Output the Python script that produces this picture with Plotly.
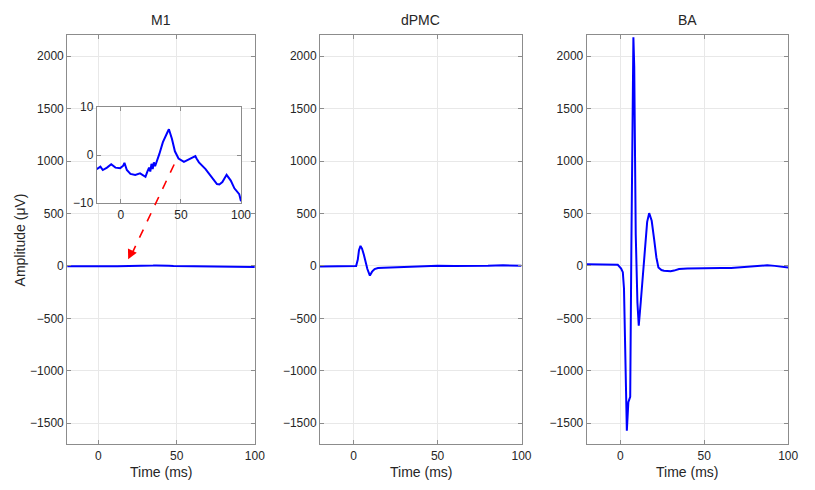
import plotly.graph_objects as go

# ---------------- data ----------------
m1_time = [-20, -17, -15, -11.5, -8, -4.5, -0.5, 2, 3, 5, 8, 12, 16, 20.5, 22, 23.5, 24.5, 25.5,
           26.5, 27.5, 28.5, 30, 32, 35, 37, 38.5, 40, 41, 42.5, 45, 48, 52.5, 56.5, 60, 62, 63,
           65, 70.5, 76, 80, 82, 84.5, 88, 91.5, 94.5, 96.5, 98.5, 100]
m1_amp = [-2.9, -2.4, -3.1, -2.6, -1.9, -2.6, -2.7, -2.2, -1.6, -3.1, -3.9, -4.1, -3.8, -4.5, -3.5,
          -2.6, -3.4, -1.8, -2.9, -1.5, -2.3, -1.0, 0.2, 2.7, 4.0, 4.6, 5.4, 4.6, 3.4, 0.8, -0.7,
          -1.4, -0.9, -0.6, -0.2, -0.7, -1.5, -2.9, -4.6, -6.0, -6.1, -5.6, -4.1, -5.3, -6.9, -7.6,
          -8.1, -9.6]

dpmc_time = [-20, -10, 0, 1.5, 2.5, 3.2, 4.1, 5, 6.1, 7.2, 8.2, 9.7, 11, 12.5, 14.5, 18, 22, 27,
             32, 34, 40, 50, 60, 72, 80, 89, 95, 100]
dpmc_amp = [-5, -4, -3, -2, 60, 150, 190, 165, 107, 30, -30, -92, -55, -30, -20, -17, -15, -12,
            -10, -2, -3, 0, -2, -3, 0, 5, 2, 0]

ba_time = [-20, -10, -1.5, 0.5, 1.5, 2.2, 3.0, 3.9, 4.8, 5.9, 6.6, 7.3, 7.8, 8.3, 9.2, 10.2, 11,
           12.2, 14, 16, 17.2, 18.7, 20.2, 21.5, 22.7, 24.5, 26, 28, 30, 32, 35, 40, 50, 60, 66,
           75, 82, 87.5, 92, 96, 100]
ba_amp = [15, 12, 10, -25, -60, -215, -900, -1571, -1300, -1248, 200, 1700, 2181, 1900, 300, -350,
          -570, -342, 0, 420, 503, 430, 247, 80, -15, -40, -46, -50, -52, -45, -30, -25, -20, -20,
          -20, -12, -5, 5, 0, -5, -15]

panel_titles = ["M1", "dPMC", "BA"]
x_ticks = [0, 50, 100]
y_ticks = [-1500, -1000, -500, 0, 500, 1000, 1500, 2000]
inset_y_ticks = [-10, 0, 10]

# ---------------- style ----------------
W, H = 815, 490
FONT = "Liberation Sans, Arial, sans-serif"
TXT = "#262626"
FRAME = "#8c8c8c"
GRID = "#e8e8e8"
BLUE = "#0000ff"

def px_x(a, b):
    return [a / W, b / W]

def px_y(top, bottom):
    return [1 - bottom / H, 1 - top / H]

fig = go.Figure()

fig.add_trace(go.Scatter(x=m1_time, y=m1_amp, mode="lines", line=dict(color=BLUE, width=2),
                         xaxis="x", yaxis="y", showlegend=False))
fig.add_trace(go.Scatter(x=dpmc_time, y=dpmc_amp, mode="lines", line=dict(color=BLUE, width=2),
                         xaxis="x2", yaxis="y2", showlegend=False))
fig.add_trace(go.Scatter(x=ba_time, y=ba_amp, mode="lines", line=dict(color=BLUE, width=2),
                         xaxis="x3", yaxis="y3", showlegend=False))
fig.add_trace(go.Scatter(x=m1_time, y=m1_amp, mode="lines", line=dict(color=BLUE, width=2),
                         xaxis="x4", yaxis="y4", showlegend=False))

def ax_common(**kw):
    d = dict(showline=True, linecolor=FRAME, linewidth=1, mirror="allticks",
             ticks="inside", ticklen=4, tickcolor=FRAME, showgrid=True, gridcolor=GRID,
             gridwidth=1, zeroline=False, tickfont=dict(family=FONT, size=12, color=TXT),
             fixedrange=True)
    d.update(kw)
    return d

xdoms = [px_x(68, 258), px_x(324, 528), px_x(594, 798)]
ydom = px_y(29, 450)
layout = dict(width=W, height=H, margin=dict(l=0, r=0, t=0, b=0),
              paper_bgcolor="white", plot_bgcolor="white", showlegend=False)
for i in range(3):
    sx = "" if i == 0 else str(i + 1)
    layout["xaxis" + sx] = ax_common(domain=xdoms[i], range=[-20, 100], tickvals=x_ticks,
                                      anchor="y" + sx)
    layout["yaxis" + sx] = ax_common(domain=ydom, range=[-1700, 2200], tickvals=y_ticks,
                                      anchor="x" + sx)
layout["xaxis4"] = ax_common(domain=px_x(98, 244), range=[-20, 100], tickvals=x_ticks, anchor="y4")
layout["yaxis4"] = ax_common(domain=px_y(103, 202), range=[-10, 10], tickvals=inset_y_ticks,
                             anchor="x4")
fig.update_layout(**layout)

# white background for the inset (hides main gridlines behind it)
fig.add_shape(type="rect", xref="x4 domain", yref="y4 domain", x0=0, x1=1, y0=0, y1=1,
              fillcolor="white", line=dict(width=0), layer="below")

# red dashed arrow from inset to the M1 trace
fig.add_shape(type="line", xref="x", yref="y", x0=48.4, y0=967, x1=21.5, y1=120,
              line=dict(color="#ff0000", width=1.6, dash="dash"), layer="above")
fig.add_annotation(x=19, y=62, xref="x", yref="y", text="", showarrow=True,
                   ax=4.3, ay=-9, arrowhead=2, arrowsize=1.3, arrowwidth=1.5,
                   arrowcolor="#ff0000", standoff=0)

# panel titles and x-axis titles
for i, t in enumerate(panel_titles):
    fig.add_annotation(x=sum(xdoms[i]) / 2, y=1 - 13 / H, xref="paper", yref="paper",
                       text=t, showarrow=False, font=dict(family=FONT, size=14, color=TXT),
                       xanchor="center", yanchor="middle")
    fig.add_annotation(x=sum(xdoms[i]) / 2, y=1 - 479 / H, xref="paper", yref="paper",
                       text="Time (ms)", showarrow=False,
                       font=dict(family=FONT, size=14, color=TXT),
                       xanchor="center", yanchor="middle")

fig.add_annotation(x=20 / W, y=sum(ydom) / 2, xref="paper", yref="paper",
                   text="Amplitude (μV)", textangle=-90, showarrow=False,
                   font=dict(family=FONT, size=14, color=TXT),
                   xanchor="center", yanchor="middle")

fig.write_html("out.html", config={"displayModeBar": False},
               post_script="document.body.style.margin='0px';document.body.style.overflow='hidden';")
